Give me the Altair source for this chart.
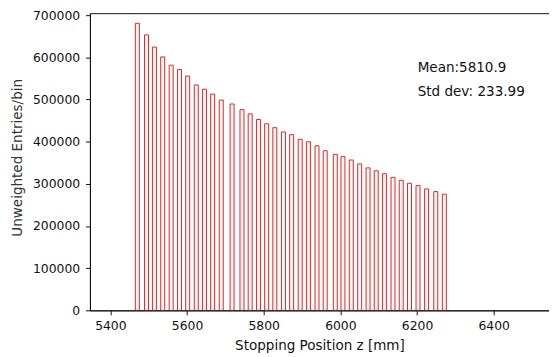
import altair as alt
import pandas as pd

# Bin centres (Stopping Position z [mm])
positions = [5470.3, 5494.3, 5514.9, 5536.5, 5558.6, 5580.3, 5601.6, 5624.1,
             5645.4, 5666.8, 5689.2, 5717.5, 5743.3, 5764.7, 5786.3, 5807.7,
             5829.0, 5851.5, 5872.8, 5895.2, 5916.6, 5939.0, 5960.4, 5986.7,
             6006.7, 6028.4, 6050.3, 6072.2, 6093.5, 6114.9, 6137.3, 6158.7,
             6180.3, 6202.5, 6224.9, 6248.8, 6271.2]
# Unweighted entries per bin
counts = [680500, 653100, 624300, 600900, 581300, 571200, 555500, 534500,
          524400, 512700, 498600, 489300, 475900, 465900, 452500, 442400,
          433100, 423000, 416700, 405700, 399600, 390200, 378500, 369900,
          364500, 356500, 347200, 337800, 330800, 323800, 315300, 308300,
          301300, 295700, 287900, 281600, 275500]
bin_half_width = 5.2

x_ticks = [5400, 5600, 5800, 6000, 6200, 6400]
y_ticks = [0, 100000, 200000, 300000, 400000, 500000, 600000, 700000]
stats_lines = ["Mean:5810.9", "Std dev: 233.99"]

df = pd.DataFrame({
    "start": [p - bin_half_width for p in positions],
    "end": [p + bin_half_width for p in positions],
    "count": counts,
})
txt = pd.DataFrame({"label": stats_lines, "row": [0, 1]})

W, H = 465, 301
FONT = "DejaVu Sans"

x_scale = alt.Scale(domain=[5346.7, 6544.2], nice=False, zero=False)
y_scale = alt.Scale(domain=[0, 704600], nice=False)

bars = alt.Chart(df).mark_bar(
    fill="#fff3f3", stroke="#d42a2a", strokeWidth=1, clip=True
).encode(
    x=alt.X("start:Q", scale=x_scale,
            axis=alt.Axis(values=x_ticks, title="Stopping Position z [mm]",
                          format="d", grid=False, tickSize=4.5, labelPadding=4.5,
                          labelFontSize=12.5, labelColor="#111", labelFont=FONT,
                          titleFont=FONT, titleFontSize=13.7, titleFontWeight="normal",
                          titleColor="#111", titleBaseline="alphabetic", titleY=40,
                          domainColor="#111", tickColor="#111")),
    x2="end:Q",
    y=alt.Y("count:Q", scale=y_scale,
            axis=alt.Axis(values=y_ticks, title="Unweighted Entries/bin",
                          format="d", grid=False, tickSize=4.5, labelPadding=6,
                          labelFontSize=12.5, labelColor="#111", labelFont=FONT,
                          titleFont=FONT, titleFontSize=13.7, titleFontWeight="normal",
                          titleColor="#333", titleX=-66, titleY=146,
                          domainColor="#111", tickColor="#111")),
    y2=alt.datum(0),
)

stats = alt.Chart(txt).mark_text(
    align="left", baseline="alphabetic", font=FONT, fontSize=13.7, color="#111"
).encode(
    x=alt.value(332),
    y=alt.Y("row:Q", scale=alt.Scale(domain=[0, 1], range=[60, 84]), axis=None),
    text="label:N",
)

chart = alt.layer(bars, stats).resolve_scale(y="independent").properties(
    width=W, height=H,
    autosize=alt.AutoSizeParams(type="none"),
    padding={"left": 83, "top": 3, "right": 0, "bottom": 45},
).configure_view(stroke="#111", strokeWidth=1)

chart.save("out.html", embed_options={"renderer": "svg", "actions": False})
